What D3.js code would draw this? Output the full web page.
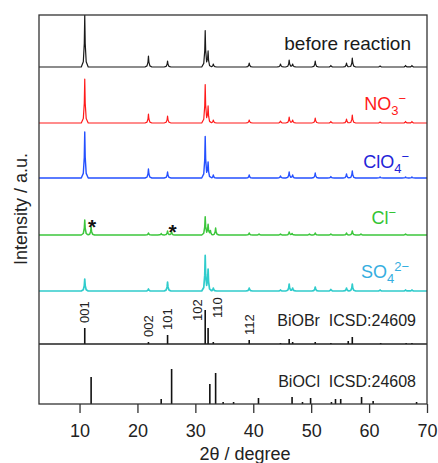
<!DOCTYPE html>
<html>
<head>
<meta charset="utf-8">
<script src="https://cdn.jsdelivr.net/npm/d3@7"></script>
<style>
body { margin: 0; background: #fff; }
text { font-family: "Liberation Sans", Arial, sans-serif; }
</style>
</head>
<body>
<div id="chart"></div>
<script>
// peak lists: [2theta (deg), height (a.u.)]
var beforePeaks = [[10.9,52],[21.9,11],[25.2,6],[31.7,36],[32.2,15],[33.1,3],[39.3,4],[44.7,3],[46.2,7],[46.8,3],[50.7,6],[53.4,1.5],[56.1,4],[57.1,9],[61.9,1],[66.3,1.5],[67.4,1.5]];
var no3Peaks    = [[10.9,44],[21.9,9],[25.2,7],[31.7,38],[32.2,16],[33.1,3],[39.3,3],[44.7,2],[46.2,6],[46.8,3],[50.7,5],[53.4,1.5],[56.1,4],[57.1,8],[61.9,1],[66.3,1.5],[67.4,1.5]];
var clo4Peaks   = [[10.9,46],[21.9,9],[25.2,6],[31.7,41],[32.2,15],[33.1,3],[39.3,3],[44.7,2],[46.2,6],[46.8,3],[50.7,5],[53.4,1.5],[56.1,4],[57.1,7],[61.9,1],[66.3,1],[67.4,1]];
var clPeaks     = [[10.9,15],[12.0,8],[21.9,2],[24.1,1.5],[25.2,4],[25.9,3],[31.7,18],[32.2,10],[32.6,4],[33.5,7],[39.3,2],[41.0,1],[44.7,1],[46.2,3],[46.7,1.5],[49.7,1],[50.7,2],[53.4,1],[56.1,2],[57.1,4],[58.6,1],[66.3,1]];
var so4Peaks    = [[10.9,12],[21.9,2],[25.2,9],[31.7,35],[32.2,21],[33.1,3],[39.3,3],[44.7,1],[46.2,7],[46.8,3],[50.7,4],[53.4,1.5],[56.1,3],[57.1,7],[61.9,1],[66.3,1],[67.4,1]];

// reference patterns (sticks)
var biobrSticks = [[10.9,16],[21.9,2],[25.2,9],[31.7,34],[32.2,16],[33.1,2],[39.3,4],[44.7,1],[46.2,5],[46.8,2],[50.7,2],[53.4,1],[56.4,3],[57.1,7],[62.0,1],[66.4,1],[67.4,1]];
var bioclSticks = [[12.0,27],[24.1,5],[25.9,35],[32.5,20],[33.5,31],[34.8,2],[36.6,2],[40.9,6],[46.7,7],[48.5,2],[49.9,6],[53.5,2],[54.2,5],[55.1,5],[58.7,7],[60.7,3],[68.2,2]];

var hklText   = ['001','002','101','102','110','112'];
var hklAngles = [10.9, 21.9, 25.2, 31.7, 32.2, 39.3];
var starAngles = [12.0, 25.9];

var xTicks = [10, 20, 30, 40, 50, 60, 70];
var xDomain = [3, 70];

var width = 438, height = 463;
var padding = { top: 15, right: 11, bottom: 59, left: 39 };

var svg = d3.select('#chart').append('svg')
  .attr('width', width).attr('height', height);

var xScale = d3.scaleLinear().domain(xDomain)
  .range([padding.left, width - padding.right]);
var yScale = d3.scaleLinear().domain([0, 389])
  .range([height - padding.bottom, padding.top]);

svg.append('defs').append('clipPath').attr('id', 'plotclip')
  .append('rect')
  .attr('x', padding.left).attr('y', padding.top)
  .attr('width', width - padding.left - padding.right)
  .attr('height', height - padding.top - padding.bottom);

// piecewise linear peak shape (offset in deg, fraction of height)
var kOff = [-0.6, -0.25, -0.08, 0, 0.08, 0.25, 0.6];
var kFrac = [0, 0.1, 0.45, 1, 0.45, 0.1, 0];
function kern(d) {
  if (d <= kOff[0] || d >= kOff[kOff.length - 1]) return 0;
  for (var j = 0; j < kOff.length - 1; j++) {
    if (d >= kOff[j] && d <= kOff[j + 1]) {
      var t = (d - kOff[j]) / (kOff[j + 1] - kOff[j]);
      return kFrac[j] + t * (kFrac[j + 1] - kFrac[j]);
    }
  }
  return 0;
}
function profile(peaks) {
  var xs = [xDomain[0], xDomain[1]];
  peaks.forEach(function(p) { kOff.forEach(function(o) { xs.push(p[0] + o); }); });
  xs.sort(function(a, b) { return a - b; });
  return xs.map(function(xv) {
    var s = 0;
    peaks.forEach(function(p) { s += p[1] * kern(xv - p[0]); });
    return [xv, s];
  });
}

var series = [
  { peaks: beforePeaks, offset: 337, color: '#1a1a1a', w: 1.2, lab: [['before reaction']], lift: 17, endX: 411, fs: 19, labColor: '#1a1a1a' },
  { peaks: no3Peaks, offset: 281, color: '#ff1a1a', w: 1.2, lab: [['NO'], ['3', 'sub'], ['\u2212', 'sup']], lift: 13, endX: 406, fs: 18, labColor: '#ff1a1a' },
  { peaks: clo4Peaks, offset: 226, color: '#2450ff', w: 1.4, lab: [['ClO'], ['4', 'sub'], ['\u2212', 'sup']], lift: 10, endX: 409, fs: 18, labColor: '#2323d8' },
  { peaks: clPeaks, offset: 169, color: '#3cc63c', w: 1.5, lab: [['Cl'], ['\u2212', 'sup']], lift: 11, endX: 396, fs: 18, labColor: '#33c433' },
  { peaks: so4Peaks, offset: 113, color: '#30cccc', w: 1.7, lab: [['SO'], ['4', 'sub'], ['2\u2212', 'sup']], lift: 13, endX: 409, fs: 18, labColor: '#35aee0' }
];

var linePath = d3.line()
  .x(function(d) { return xScale(d[0]); })
  .y(function(d) { return yScale(d[1]); });

var g = svg.append('g').attr('clip-path', 'url(#plotclip)');

series.forEach(function(s) {
  g.append('path')
    .attr('d', linePath(profile(s.peaks).map(function(d) { return [d[0], d[1] + s.offset]; })))
    .attr('fill', 'none')
    .attr('stroke', s.color)
    .attr('stroke-width', s.w)
    .attr('stroke-linejoin', 'round');

  var t = svg.append('text')
    .attr('x', s.endX)
    .attr('y', yScale(s.offset + s.lift))
    .attr('text-anchor', 'end')
    .attr('font-size', s.fs)
    .attr('fill', s.labColor);
  var cur = 0;
  s.lab.forEach(function(part) {
    var ts = t.append('tspan').text(part[0]);
    if (part[1] === 'sub') { ts.attr('font-size', 13).attr('dy', 5 - cur); cur = 5; }
    else if (part[1] === 'sup') { ts.attr('font-size', 13).attr('dy', -7 - cur); cur = -7; }
  });
});

// stars on the Cl- trace
starAngles.forEach(function(a) {
  var h = 0;
  clPeaks.forEach(function(p) { if (Math.abs(p[0] - a) < 0.05) h = p[1]; });
  svg.append('text')
    .attr('x', xScale(a) + 1)
    .attr('y', yScale(169 + h) + 7)
    .attr('text-anchor', 'middle')
    .attr('font-size', 21)
    .attr('font-weight', 'bold')
    .attr('fill', '#111')
    .text('*');
});

// stick patterns
var refs = [
  { sticks: biobrSticks, offset: 60, name: 'BiOBr  ICSD:24609', lift: 18 },
  { sticks: bioclSticks, offset: 0, name: 'BiOCl  ICSD:24608', lift: 17 }
];
refs.forEach(function(r) {
  svg.append('g').selectAll('line')
    .data(r.sticks)
    .enter()
    .append('line')
    .attr('x1', function(d) { return xScale(d[0]); })
    .attr('x2', function(d) { return xScale(d[0]); })
    .attr('y1', yScale(r.offset))
    .attr('y2', function(d) { return yScale(r.offset + d[1]); })
    .attr('stroke', '#111')
    .attr('stroke-width', 1.6);
  svg.append('text')
    .attr('x', 416)
    .attr('y', yScale(r.offset + r.lift))
    .attr('text-anchor', 'end')
    .attr('font-size', 16)
    .attr('fill', '#222')
    .style('white-space', 'pre')
    .text(r.name);
});

// hkl labels on BiOBr sticks
hklText.forEach(function(lbl, i) {
  var a = hklAngles[i];
  var h = 0;
  biobrSticks.forEach(function(p) { if (Math.abs(p[0] - a) < 0.05) h = p[1]; });
  var px = xScale(a), py = yScale(60 + h) - 5;
  if (lbl === '102') { px -= 8; py = yScale(60 + 23); }
  if (lbl === '110') { px += 9; py = yScale(60 + h) - 10; }
  svg.append('text')
    .attr('transform', 'translate(' + px + ',' + py + ') rotate(-90)')
    .attr('dy', '0.35em')
    .attr('font-size', 13)
    .attr('fill', '#222')
    .text(lbl);
});

// BiOBr / BiOCl separator
svg.append('line')
  .attr('x1', padding.left).attr('x2', width - padding.right)
  .attr('y1', yScale(60)).attr('y2', yScale(60))
  .attr('stroke', '#222').attr('stroke-width', 1.3);

// frame
svg.append('rect')
  .attr('x', padding.left).attr('y', padding.top)
  .attr('width', width - padding.left - padding.right)
  .attr('height', height - padding.top - padding.bottom)
  .attr('fill', 'none')
  .attr('stroke', '#333')
  .attr('stroke-width', 1.3);

var xAxis = d3.axisBottom(xScale)
  .tickValues(xTicks)
  .tickSize(9)
  .tickPadding(11);
var ax = svg.append('g')
  .attr('transform', 'translate(0,' + (height - padding.bottom) + ')')
  .call(xAxis);
ax.select('.domain').remove();
ax.selectAll('line').attr('stroke', '#333').attr('stroke-width', 1.3);
ax.selectAll('text')
  .attr('font-size', 18)
  .attr('fill', '#222')
  .style('font-family', '"Liberation Sans", Arial, sans-serif');

svg.append('text')
  .attr('x', 245).attr('y', 460)
  .attr('text-anchor', 'middle')
  .attr('font-size', 18)
  .attr('fill', '#222')
  .text('2\u03b8 / degree');

svg.append('text')
  .attr('transform', 'translate(27,209) rotate(-90)')
  .attr('text-anchor', 'middle')
  .attr('font-size', 18)
  .attr('fill', '#222')
  .text('Intensity / a.u.');
</script>
</body>
</html>
